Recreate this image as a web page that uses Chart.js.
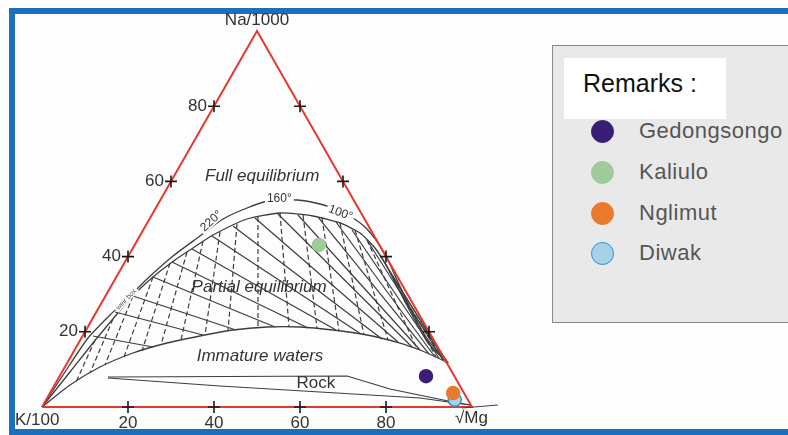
<!DOCTYPE html>
<html>
<head>
<meta charset="utf-8">
<script src="https://cdn.jsdelivr.net/npm/chart.js@4.4.1/dist/chart.umd.min.js"></script>
<style>
    body { margin: 0; width: 788px; height: 435px; overflow: hidden; background: #fff; position: relative;
           font-family: "Liberation Sans", Arial, Helvetica, sans-serif; }
    #frame { position: absolute; left: 9px; top: 8px; width: 830px; height: 427px; box-sizing: border-box;
             border: 6px solid #1d6fbd; background: #fdfdfd; }
    #chart { position: absolute; left: 0; top: 0; }
    #legend-box { position: absolute; left: 552px; top: 45px; width: 260px; height: 278px; box-sizing: border-box;
                  background: #e9e9e9; border: 1px solid #8a8a8a; }
    #legend-title { position: absolute; left: 11px; top: 12px; width: 162px; height: 61px; background: #fff;
                    font-size: 25px; line-height: 50px; padding-left: 19px; box-sizing: border-box; color: #111; }
    .legend-item { position: absolute; left: 38px; height: 24px; }
    .legend-dot { position: absolute; left: 0; top: 0; width: 23px; height: 23px; border-radius: 50%; box-sizing: border-box; }
    .legend-text { position: absolute; left: 48px; top: -2px; font-size: 22px; letter-spacing: 0.5px; line-height: 26px;
                   color: #555; white-space: nowrap; }
</style>
</head>
<body>
<div id="frame"></div>
<canvas id="chart" width="788" height="435"></canvas>
<div id="legend-box">
    <div id="legend-title">Remarks :</div>
</div>
<script>
// x: position along the base (K/100 = 0, sqrt Mg = 100), y: height in % towards Na/1000
const tickValues = [20, 40, 60, 80];

const sampleNames = ['Gedongsongo', 'Kaliulo', 'Nglimut', 'Diwak'];
const sampleX = [89.3, 64.4, 95.6, 96.0];
const sampleY = [8.2, 43.1, 3.7, 1.9];
const sampleFill = ['#3b1d78', '#9dcc98', '#e97b2c', '#a9d1e6'];
const sampleEdge = ['#3b1d78', '#9dcc98', '#e97b2c', '#2f8ccb'];

// upper temperature curve (220 / 160 / 100 degrees)
const outerCurve = [[0, 0], [5.35, 9.31], [10.7, 18.35], [15.81, 24.47], [20.0, 28.99], [24.42, 34.04],
    [30.47, 40.16], [36.74, 45.48], [42.09, 50.0], [47.67, 52.93], [52.56, 54.79], [59.3, 55.05],
    [64.65, 53.99], [69.3, 52.13], [72.33, 50.27], [75.35, 47.61], [78.14, 43.62], [80.23, 39.63],
    [82.56, 33.78], [85.58, 26.33], [89.3, 18.62], [92.09, 14.63], [94.42, 11.7]];

// full equilibrium line (top of the hatched zone)
const innerCurve = [[0, 0], [6.51, 9.31], [12.79, 18.35], [20.93, 29.26], [25.81, 34.57], [30.93, 39.1],
    [35.12, 42.29], [39.77, 45.74], [47.67, 50.0], [55.35, 51.6], [63.02, 50.8], [69.3, 48.94],
    [73.95, 46.28], [77.44, 42.29], [80.0, 37.77], [82.79, 31.65], [86.05, 24.47], [89.77, 17.02], [94.42, 11.7]];

// immature waters boundary (bottom of the hatched zone)
const lowerCurve = [[0, 0], [6.51, 5.85], [13.49, 10.64], [21.16, 14.36], [29.07, 17.02], [36.74, 18.88],
    [44.42, 20.48], [52.33, 21.28], [60, 21.28], [67.67, 20.48], [75.58, 19.15], [83.26, 17.02],
    [87.91, 15.16], [92.09, 13.03], [94.42, 11.7]];

// solid isotherm segments [x1, y1, x2, y2]
const solidLines = [
    [11.86, 18.88, 25.81, 15.96], [16.98, 25.27, 37.44, 19.15], [21.16, 29.52, 45.12, 20.48],
    [25.81, 34.57, 54.19, 21.28], [30.23, 38.56, 61.86, 21.01], [34.88, 42.02, 68.37, 20.48],
    [39.53, 45.48, 74.19, 19.41], [44.42, 48.14, 79.07, 18.09], [49.53, 50.27, 82.79, 17.29],
    [54.65, 51.6, 86.05, 15.96], [59.53, 51.06, 87.91, 15.16], [64.19, 50.53, 90.0, 14.1],
    [68.37, 49.2, 91.4, 13.3], [72.09, 47.07, 92.33, 13.03], [75.58, 44.42, 93.26, 12.5],
    [78.6, 40.43, 93.95, 11.97], [81.4, 34.84, 94.42, 11.7], [84.19, 28.46, 94.42, 11.7]];

// dashed isotherm segments [x1, y1, x2, y2]
const dashedLines = [
    [12.33, 17.82, 7.91, 6.65], [16.51, 23.4, 11.16, 9.04], [21.16, 29.52, 14.65, 11.17],
    [25.81, 34.57, 19.07, 13.3], [29.77, 38.3, 23.26, 14.89], [33.72, 41.22, 27.67, 16.49],
    [37.44, 44.15, 32.33, 17.82], [41.4, 46.54, 37.91, 19.15], [45.35, 48.67, 43.26, 20.21],
    [50.23, 50.53, 50.23, 21.01], [55.35, 51.6, 57.44, 21.28], [60.7, 51.06, 63.95, 21.01],
    [65.12, 50.27, 69.07, 20.21], [69.3, 48.94, 74.88, 19.15], [72.79, 47.07, 80.47, 17.82],
    [75.58, 44.42, 87.21, 15.43], [79.77, 38.3, 91.63, 13.3], [82.79, 31.65, 93.49, 12.23]];

const rockUpper = [[15.35, 7.98], [70.93, 8.24], [80.93, 4.79], [95.58, 1.33], [99.53, 0.53]];
const rockLower = [[15.35, 7.71], [41.4, 5.59], [64.65, 3.99], [87.91, 2.39], [99.53, 0.53]];

const triangle = [[0, 0], [50, 100], [100, 0], [0, 0]];

const toPts = arr => arr.map(([x, y]) => ({ x, y }));

// legend
const legendBox = document.getElementById('legend-box');
const legendTop = [86, 127, 168, 208];
sampleNames.forEach((name, i) => {
    const item = document.createElement('div');
    item.className = 'legend-item';
    item.style.top = (legendTop[i] - 12) + 'px';
    const dot = document.createElement('div');
    dot.className = 'legend-dot';
    dot.style.background = sampleFill[i];
    dot.style.border = '1.5px solid ' + sampleEdge[i];
    const txt = document.createElement('div');
    txt.className = 'legend-text';
    txt.textContent = name;
    item.appendChild(dot);
    item.appendChild(txt);
    legendBox.appendChild(item);
});

const lineColor = '#3d3d3d';
const datasets = [];

sampleNames.forEach((name, i) => {
    datasets.push({
        label: name,
        data: [{ x: sampleX[i], y: sampleY[i] }],
        pointRadius: 6.5,
        backgroundColor: sampleFill[i],
        borderColor: sampleEdge[i],
        borderWidth: 1.5,
        clip: false
    });
});

const crosses = [];
tickValues.forEach(t => {
    crosses.push({ x: t / 2, y: t });
    crosses.push({ x: 100 - t / 2, y: t });
    crosses.push({ x: t, y: 0 });
});
datasets.push({
    data: crosses,
    pointStyle: 'cross',
    pointRadius: 6,
    borderColor: '#1a1a1a',
    borderWidth: 1.6,
    clip: false
});

datasets.push({
    data: toPts(triangle),
    showLine: true,
    borderColor: '#e3392e',
    borderWidth: 2,
    pointRadius: 0,
    clip: false
});

[outerCurve, innerCurve, lowerCurve].forEach(c => {
    datasets.push({
        data: toPts(c),
        showLine: true,
        tension: 0.2,
        borderColor: lineColor,
        borderWidth: 1.3,
        pointRadius: 0,
        clip: false
    });
});

[rockUpper, rockLower].forEach(c => {
    datasets.push({
        data: toPts(c),
        showLine: true,
        borderColor: lineColor,
        borderWidth: 1.2,
        pointRadius: 0,
        clip: false
    });
});

solidLines.forEach(s => {
    datasets.push({
        data: [{ x: s[0], y: s[1] }, { x: s[2], y: s[3] }],
        showLine: true,
        borderColor: lineColor,
        borderWidth: 1.2,
        pointRadius: 0
    });
});

dashedLines.forEach(s => {
    datasets.push({
        data: [{ x: s[0], y: s[1] }, { x: s[2], y: s[3] }],
        showLine: true,
        borderColor: lineColor,
        borderWidth: 1.2,
        borderDash: [5, 3],
        pointRadius: 0
    });
});

const fontFamily = '"Liberation Sans", Arial, Helvetica, sans-serif';

function toPx(chart, x, y) {
    return [chart.scales.x.getPixelForValue(x), chart.scales.y.getPixelForValue(y)];
}

function label(ctx, text, p, opts) {
    ctx.save();
    ctx.font = opts.font;
    ctx.fillStyle = opts.color || '#333';
    ctx.textAlign = opts.align || 'center';
    ctx.textBaseline = 'middle';
    ctx.translate(p[0], p[1]);
    if (opts.rotate) ctx.rotate(opts.rotate * Math.PI / 180);
    if (opts.knockout) {
        const w = ctx.measureText(text).width;
        ctx.fillStyle = '#fdfdfd';
        ctx.fillRect(-w / 2 - 2, -opts.knockout / 2, w + 4, opts.knockout);
        ctx.fillStyle = opts.color || '#333';
    }
    ctx.fillText(text, 0, 0);
    ctx.restore();
}

const textPlugin = {
    id: 'ternaryText',
    beforeDatasetsDraw(chart) {
        const ctx = chart.ctx;
        const it = 'italic 17px ' + fontFamily;
        label(ctx, 'Full equilibrium', toPx(chart, 51.2, 61.4), { font: it });
        label(ctx, 'Partial equilibrium', toPx(chart, 50.5, 31.9), { font: it });
        label(ctx, 'Immature waters', toPx(chart, 50.7, 13.6), { font: it });
        label(ctx, 'Rock', toPx(chart, 63.7, 6.4), { font: '17px ' + fontFamily });
    },
    afterDatasetsDraw(chart) {
        const ctx = chart.ctx;
        const f = '17px ' + fontFamily;
        // curve labels
        label(ctx, '220°', toPx(chart, 39.4, 49.4), { font: '12px ' + fontFamily, rotate: -42, knockout: 10 });
        label(ctx, '160°', toPx(chart, 55.2, 55.3), { font: '12px ' + fontFamily, knockout: 10 });
        label(ctx, '100°', toPx(chart, 69.4, 51.6), { font: '12px ' + fontFamily, rotate: 20, knockout: 10 });
        label(ctx, 'weir box', toPx(chart, 19.6, 28.6), { font: '7px ' + fontFamily, rotate: -47, knockout: 7, color: '#555' });
        // tick labels
        tickValues.forEach(t => {
            const l = toPx(chart, t / 2, t);
            label(ctx, String(t), [l[0] - 7, l[1]], { font: f, align: 'right' });
            const b = toPx(chart, t, 0);
            label(ctx, String(t), [b[0], b[1] + 16], { font: f });
        });
        // vertex labels
        const top = toPx(chart, 50, 100);
        label(ctx, 'Na/1000', [top[0], top[1] - 11], { font: f });
        const k = toPx(chart, 0, 0);
        label(ctx, 'K/100', [k[0] - 27, k[1] + 13], { font: f, align: 'left' });
        const m = toPx(chart, 100, 0);
        label(ctx, '√Mg', [m[0] - 17, m[1] + 11], { font: f, align: 'left' });
        ctx.save();
        ctx.strokeStyle = '#444';
        ctx.lineWidth = 1.2;
        ctx.beginPath();
        ctx.moveTo(m[0] - 10, m[1] + 1);
        ctx.lineTo(m[0] + 26, m[1] - 2);
        ctx.stroke();
        ctx.restore();
    }
};

new Chart(document.getElementById('chart'), {
    type: 'scatter',
    data: { datasets },
    options: {
        responsive: false,
        animation: false,
        devicePixelRatio: 1,
        layout: { padding: { left: 42, right: 316, top: 31, bottom: 28 } },
        scales: {
            x: { type: 'linear', min: 0, max: 100, display: false },
            y: { type: 'linear', min: 0, max: 100, display: false }
        },
        plugins: {
            legend: { display: false },
            tooltip: { enabled: false }
        }
    },
    plugins: [textPlugin]
});
</script>
</body>
</html>
